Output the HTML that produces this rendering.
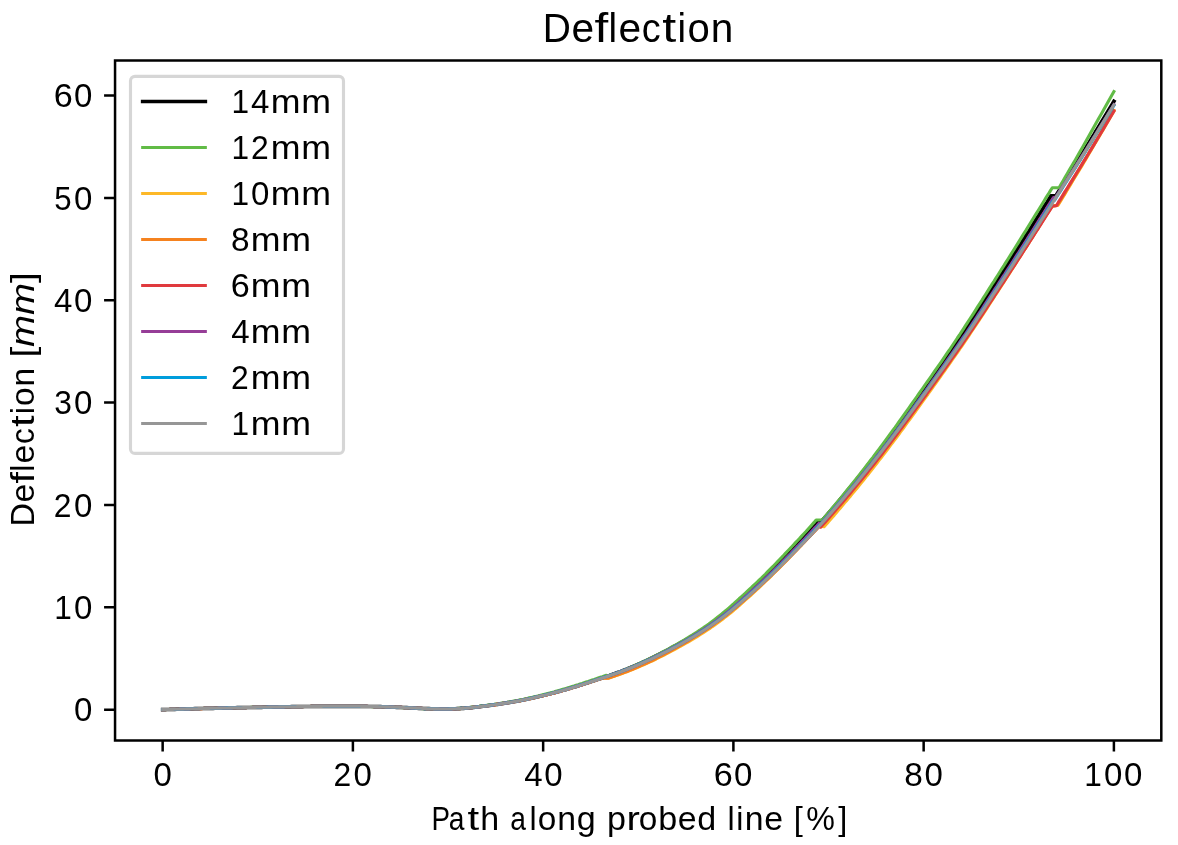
<!DOCTYPE html>
<html><head><meta charset="utf-8"><title>Deflection</title>
<style>
html,body{margin:0;padding:0;background:#ffffff;overflow:hidden;}
svg{display:block;will-change:transform;}
text{font-family:"Liberation Sans",sans-serif;}
</style></head><body>
<svg width="1178" height="845" viewBox="0 0 1178 845">
<rect x="0" y="0" width="1178" height="845" fill="#ffffff"/>
<defs><clipPath id="ax"><rect x="115.05" y="60.5" width="1046.25" height="680.0"/></clipPath></defs>
<g clip-path="url(#ax)" fill="none" stroke-linejoin="round" stroke-linecap="square">
<path d="M162.7,709.6 L164.7,709.6 L166.7,709.5 L168.7,709.5 L170.7,709.4 L172.7,709.3 L174.8,709.3 L176.8,709.2 L178.8,709.2 L180.8,709.1 L182.8,709.1 L184.8,709.0 L186.9,708.9 L188.9,708.9 L190.9,708.8 L192.9,708.8 L194.9,708.7 L197.0,708.7 L199.0,708.6 L201.0,708.5 L203.0,708.5 L205.0,708.4 L207.0,708.4 L209.1,708.3 L211.1,708.3 L213.1,708.3 L215.1,708.2 L217.1,708.2 L219.1,708.1 L221.2,708.1 L223.2,708.0 L225.2,708.0 L227.2,707.9 L229.2,707.9 L231.3,707.9 L233.3,707.8 L235.3,707.8 L237.3,707.7 L239.3,707.7 L241.3,707.7 L243.4,707.6 L245.4,707.6 L247.4,707.5 L249.4,707.5 L251.4,707.5 L253.4,707.4 L255.5,707.4 L257.5,707.3 L259.5,707.3 L261.5,707.3 L263.5,707.2 L265.6,707.2 L267.6,707.1 L269.6,707.1 L271.6,707.1 L273.6,707.0 L275.6,707.0 L277.7,707.0 L279.7,706.9 L281.7,706.9 L283.7,706.9 L285.7,706.8 L287.7,706.8 L289.8,706.8 L291.8,706.7 L293.8,706.7 L295.8,706.7 L297.8,706.6 L299.9,706.6 L301.9,706.6 L303.9,706.5 L305.9,706.5 L307.9,706.5 L309.9,706.5 L312.0,706.4 L314.0,706.4 L316.0,706.4 L318.0,706.4 L320.0,706.4 L322.0,706.4 L324.1,706.3 L326.1,706.3 L328.1,706.3 L330.1,706.3 L332.1,706.3 L334.2,706.3 L336.2,706.3 L338.2,706.3 L340.2,706.3 L342.2,706.3 L344.2,706.3 L346.3,706.3 L348.3,706.3 L350.3,706.3 L352.3,706.3 L354.3,706.3 L356.3,706.3 L358.4,706.3 L360.4,706.4 L362.4,706.4 L364.4,706.4 L366.4,706.4 L368.5,706.5 L370.5,706.5 L372.5,706.5 L374.5,706.6 L376.5,706.6 L378.5,706.7 L380.6,706.7 L382.6,706.8 L384.6,706.8 L386.6,706.9 L388.6,707.0 L390.6,707.0 L392.7,707.1 L394.7,707.2 L396.7,707.3 L398.7,707.3 L400.7,707.4 L402.8,707.5 L404.8,707.6 L406.8,707.7 L408.8,707.8 L410.8,707.9 L412.8,708.0 L414.9,708.1 L416.9,708.2 L418.9,708.3 L420.9,708.4 L422.9,708.5 L424.9,708.6 L427.0,708.6 L429.0,708.7 L431.0,708.8 L433.0,708.8 L435.0,708.9 L437.1,708.9 L439.1,709.0 L441.1,709.0 L443.1,709.0 L445.1,709.0 L447.1,709.0 L449.2,708.9 L451.2,708.9 L453.2,708.8 L455.2,708.8 L457.2,708.7 L459.2,708.6 L461.3,708.4 L463.3,708.3 L465.3,708.1 L467.3,708.0 L469.3,707.8 L471.4,707.6 L473.4,707.4 L475.4,707.2 L477.4,706.9 L479.4,706.7 L481.4,706.4 L483.5,706.2 L485.5,705.9 L487.5,705.7 L489.5,705.4 L491.5,705.1 L493.5,704.8 L495.6,704.5 L497.6,704.3 L499.6,704.0 L501.6,703.7 L503.6,703.3 L505.7,703.0 L507.7,702.7 L509.7,702.4 L511.7,702.0 L513.7,701.7 L515.7,701.3 L517.8,701.0 L519.8,700.6 L521.8,700.2 L523.8,699.8 L525.8,699.4 L527.8,698.9 L529.9,698.5 L531.9,698.1 L533.9,697.6 L535.9,697.1 L537.9,696.7 L540.0,696.2 L542.0,695.7 L544.0,695.2 L546.0,694.7 L548.0,694.2 L550.0,693.7 L552.1,693.2 L554.1,692.7 L556.1,692.2 L558.1,691.6 L560.1,691.1 L562.1,690.5 L564.2,690.0 L566.2,689.4 L568.2,688.8 L570.2,688.2 L572.2,687.6 L574.3,687.0 L576.3,686.4 L578.3,685.7 L580.3,685.1 L582.3,684.5 L584.3,683.8 L586.4,683.2 L588.4,682.5 L590.4,681.8 L592.4,681.2 L594.4,680.5 L596.4,679.8 L598.5,679.2 L600.5,678.5 L602.5,677.8 L603.5,677.5 L605.5,676.8 L607.5,676.1 L609.6,675.5 L611.6,674.8 L613.6,674.1 L615.6,673.3 L617.6,672.6 L619.7,671.9 L621.7,671.1 L623.7,670.3 L625.7,669.6 L627.7,668.8 L629.7,667.9 L631.8,667.1 L633.8,666.3 L635.8,665.4 L637.8,664.5 L639.8,663.6 L641.9,662.7 L643.9,661.8 L645.9,660.9 L647.9,659.9 L649.9,659.0 L652.0,658.0 L654.0,657.0 L656.0,656.0 L658.0,655.0 L660.0,654.0 L662.0,653.0 L664.1,651.9 L666.1,650.9 L668.1,649.8 L670.1,648.7 L672.1,647.6 L674.2,646.5 L676.2,645.4 L678.2,644.3 L680.2,643.2 L682.2,642.0 L684.3,640.9 L686.3,639.7 L688.3,638.5 L690.3,637.3 L692.3,636.1 L694.3,634.9 L696.4,633.6 L698.4,632.3 L700.4,631.0 L702.4,629.7 L704.4,628.3 L706.5,627.0 L708.5,625.6 L710.5,624.1 L712.5,622.7 L714.5,621.2 L716.6,619.7 L718.6,618.2 L720.6,616.6 L722.6,615.1 L724.6,613.5 L726.7,611.8 L728.7,610.1 L730.7,608.5 L732.7,606.7 L734.7,605.0 L736.7,603.2 L738.8,601.4 L740.8,599.7 L742.8,597.9 L744.8,596.0 L746.8,594.2 L748.9,592.4 L750.9,590.6 L752.9,588.7 L754.9,586.8 L756.9,585.0 L759.0,583.1 L761.0,581.2 L763.0,579.2 L765.0,577.3 L767.0,575.3 L769.0,573.4 L771.1,571.4 L773.1,569.4 L775.1,567.4 L777.1,565.3 L779.1,563.3 L781.2,561.2 L783.2,559.2 L785.2,557.1 L787.2,555.0 L789.2,552.9 L791.3,550.8 L793.3,548.7 L795.3,546.6 L797.3,544.5 L799.3,542.4 L801.3,540.3 L803.4,538.1 L805.4,536.0 L807.4,533.9 L809.4,531.7 L811.4,529.5 L813.5,527.3 L815.5,525.0 L817.5,522.7 L820.4,522.6 L822.4,520.3 L824.4,518.0 L826.5,515.7 L828.5,513.3 L830.5,511.0 L832.5,508.6 L834.6,506.2 L836.6,503.9 L838.6,501.5 L840.6,499.0 L842.6,496.6 L844.7,494.2 L846.7,491.7 L848.7,489.3 L850.7,486.8 L852.8,484.3 L854.8,481.8 L856.8,479.3 L858.8,476.8 L860.8,474.3 L862.9,471.7 L864.9,469.2 L866.9,466.6 L868.9,464.0 L870.9,461.4 L873.0,458.8 L875.0,456.2 L877.0,453.5 L879.0,450.9 L881.1,448.2 L883.1,445.5 L885.1,442.8 L887.1,440.1 L889.1,437.4 L891.2,434.7 L893.2,432.0 L895.2,429.2 L897.2,426.5 L899.3,423.7 L901.3,420.9 L903.3,418.1 L905.3,415.4 L907.3,412.6 L909.4,409.8 L911.4,406.9 L913.4,404.1 L915.4,401.3 L917.5,398.5 L919.5,395.7 L921.5,392.8 L923.5,390.0 L925.5,387.1 L927.6,384.3 L929.6,381.5 L931.6,378.6 L933.6,375.8 L935.7,372.9 L937.7,370.0 L939.7,367.2 L941.7,364.3 L943.7,361.4 L945.8,358.5 L947.8,355.6 L949.8,352.7 L951.8,349.8 L953.8,346.8 L955.9,343.9 L957.9,340.9 L959.9,337.9 L961.9,334.9 L964.0,331.9 L966.0,328.9 L968.0,325.8 L970.0,322.8 L972.0,319.7 L974.1,316.6 L976.1,313.5 L978.1,310.4 L980.1,307.3 L982.2,304.2 L984.2,301.0 L986.2,297.9 L988.2,294.8 L990.2,291.6 L992.3,288.5 L994.3,285.4 L996.3,282.2 L998.3,279.1 L1000.4,275.9 L1002.4,272.8 L1004.4,269.6 L1006.4,266.5 L1008.4,263.3 L1010.5,260.1 L1012.5,256.9 L1014.5,253.8 L1016.5,250.6 L1018.5,247.4 L1020.6,244.2 L1022.6,241.0 L1024.6,237.8 L1026.6,234.6 L1028.7,231.4 L1030.7,228.2 L1032.7,224.9 L1034.7,221.7 L1036.7,218.5 L1038.8,215.3 L1040.8,212.0 L1042.8,208.8 L1044.8,205.6 L1046.9,202.4 L1048.9,199.2 L1050.9,195.9 L1055.8,195.9 L1057.9,192.6 L1060.0,189.3 L1062.0,186.0 L1064.1,182.7 L1066.2,179.4 L1068.2,176.1 L1070.3,172.8 L1072.4,169.5 L1074.5,166.2 L1076.5,162.9 L1078.6,159.5 L1080.7,156.2 L1082.8,152.8 L1084.9,149.4 L1086.9,146.0 L1089.0,142.6 L1091.1,139.2 L1093.2,135.8 L1095.2,132.3 L1097.3,128.9 L1099.4,125.5 L1101.5,122.0 L1103.5,118.6 L1105.6,115.1 L1107.7,111.7 L1109.8,108.3 L1111.8,104.9 L1113.9,101.4" stroke="#000000" stroke-width="3.7"/>
<path d="M162.7,709.6 L164.7,709.6 L166.7,709.5 L168.7,709.5 L170.7,709.4 L172.7,709.3 L174.7,709.3 L176.8,709.2 L178.8,709.2 L180.8,709.1 L182.8,709.0 L184.8,709.0 L186.8,708.9 L188.9,708.9 L190.9,708.8 L192.9,708.8 L194.9,708.7 L196.9,708.6 L198.9,708.6 L201.0,708.5 L203.0,708.5 L205.0,708.4 L207.0,708.4 L209.0,708.3 L211.0,708.3 L213.1,708.2 L215.1,708.2 L217.1,708.2 L219.1,708.1 L221.1,708.1 L223.1,708.0 L225.2,708.0 L227.2,707.9 L229.2,707.9 L231.2,707.9 L233.2,707.8 L235.2,707.8 L237.3,707.7 L239.3,707.7 L241.3,707.6 L243.3,707.6 L245.3,707.6 L247.3,707.5 L249.4,707.5 L251.4,707.4 L253.4,707.4 L255.4,707.4 L257.4,707.3 L259.4,707.3 L261.5,707.2 L263.5,707.2 L265.5,707.2 L267.5,707.1 L269.5,707.1 L271.5,707.1 L273.6,707.0 L275.6,707.0 L277.6,706.9 L279.6,706.9 L281.6,706.9 L283.6,706.8 L285.7,706.8 L287.7,706.8 L289.7,706.7 L291.7,706.7 L293.7,706.7 L295.7,706.6 L297.8,706.6 L299.8,706.6 L301.8,706.6 L303.8,706.5 L305.8,706.5 L307.8,706.5 L309.9,706.5 L311.9,706.4 L313.9,706.4 L315.9,706.4 L317.9,706.4 L319.9,706.4 L322.0,706.3 L324.0,706.3 L326.0,706.3 L328.0,706.3 L330.0,706.3 L332.0,706.3 L334.1,706.3 L336.1,706.3 L338.1,706.3 L340.1,706.3 L342.1,706.3 L344.1,706.3 L346.2,706.3 L348.2,706.3 L350.2,706.3 L352.2,706.3 L354.2,706.3 L356.2,706.3 L358.3,706.4 L360.3,706.4 L362.3,706.4 L364.3,706.4 L366.3,706.5 L368.3,706.5 L370.4,706.5 L372.4,706.6 L374.4,706.6 L376.4,706.7 L378.4,706.7 L380.4,706.8 L382.5,706.8 L384.5,706.9 L386.5,706.9 L388.5,707.0 L390.5,707.1 L392.5,707.2 L394.6,707.2 L396.6,707.3 L398.6,707.4 L400.6,707.5 L402.6,707.6 L404.6,707.7 L406.7,707.8 L408.7,707.9 L410.7,708.0 L412.7,708.1 L414.7,708.2 L416.7,708.3 L418.8,708.4 L420.8,708.5 L422.8,708.6 L424.8,708.6 L426.8,708.7 L428.8,708.8 L430.9,708.8 L432.9,708.9 L434.9,708.9 L436.9,709.0 L438.9,709.0 L440.9,709.0 L443.0,709.0 L445.0,709.0 L447.0,708.9 L449.0,708.9 L451.0,708.8 L453.0,708.7 L455.1,708.6 L457.1,708.5 L459.1,708.4 L461.1,708.3 L463.1,708.1 L465.1,707.9 L467.2,707.7 L469.2,707.5 L471.2,707.3 L473.2,707.1 L475.2,706.9 L477.2,706.6 L479.3,706.4 L481.3,706.1 L483.3,705.9 L485.3,705.6 L487.3,705.3 L489.3,705.0 L491.4,704.7 L493.4,704.5 L495.4,704.2 L497.4,703.9 L499.4,703.5 L501.4,703.2 L503.5,702.9 L505.5,702.6 L507.5,702.3 L509.5,701.9 L511.5,701.6 L513.5,701.2 L515.6,700.8 L517.6,700.4 L519.6,700.0 L521.6,699.6 L523.6,699.2 L525.6,698.7 L527.7,698.3 L529.7,697.8 L531.7,697.4 L533.7,696.9 L535.7,696.4 L537.7,696.0 L539.8,695.5 L541.8,695.0 L543.8,694.5 L545.8,694.0 L547.8,693.5 L549.8,692.9 L551.9,692.4 L553.9,691.9 L555.9,691.3 L557.9,690.8 L559.9,690.2 L561.9,689.6 L564.0,689.0 L566.0,688.4 L568.0,687.8 L570.0,687.2 L572.0,686.6 L574.0,686.0 L576.1,685.3 L578.1,684.7 L580.1,684.0 L582.1,683.4 L584.1,682.7 L586.1,682.0 L588.2,681.4 L590.2,680.7 L592.2,680.0 L594.2,679.4 L596.2,678.7 L598.2,678.0 L600.3,677.3 L602.3,676.7 L604.3,676.0 L606.3,675.3 L607.5,676.0 L609.5,675.3 L611.6,674.6 L613.6,673.9 L615.6,673.2 L617.6,672.4 L619.7,671.7 L621.7,670.9 L623.7,670.1 L625.7,669.3 L627.8,668.4 L629.8,667.6 L631.8,666.7 L633.8,665.9 L635.9,665.0 L637.9,664.1 L639.9,663.2 L641.9,662.2 L644.0,661.3 L646.0,660.3 L648.0,659.4 L650.0,658.4 L652.1,657.4 L654.1,656.4 L656.1,655.4 L658.1,654.3 L660.2,653.3 L662.2,652.2 L664.2,651.1 L666.2,650.1 L668.3,649.0 L670.3,647.9 L672.3,646.7 L674.3,645.6 L676.4,644.5 L678.4,643.3 L680.4,642.2 L682.4,641.0 L684.5,639.8 L686.5,638.6 L688.5,637.4 L690.5,636.1 L692.6,634.9 L694.6,633.6 L696.6,632.3 L698.6,630.9 L700.7,629.6 L702.7,628.2 L704.7,626.8 L706.7,625.4 L708.8,623.9 L710.8,622.4 L712.8,620.9 L714.8,619.4 L716.9,617.8 L718.9,616.2 L720.9,614.6 L722.9,613.0 L725.0,611.3 L727.0,609.6 L729.0,607.9 L731.0,606.1 L733.1,604.3 L735.1,602.5 L737.1,600.7 L739.1,598.8 L741.2,597.0 L743.2,595.2 L745.2,593.3 L747.2,591.4 L749.3,589.5 L751.3,587.7 L753.3,585.7 L755.3,583.8 L757.4,581.9 L759.4,579.9 L761.4,578.0 L763.4,576.0 L765.5,574.0 L767.5,571.9 L769.5,569.9 L771.5,567.9 L773.6,565.8 L775.6,563.7 L777.6,561.6 L779.6,559.5 L781.7,557.4 L783.7,555.3 L785.7,553.1 L787.7,551.0 L789.8,548.9 L791.8,546.7 L793.8,544.6 L795.8,542.4 L797.9,540.2 L799.9,538.1 L801.9,535.9 L803.9,533.7 L806.0,531.5 L808.0,529.2 L810.0,527.0 L812.0,524.7 L814.1,522.4 L816.1,520.0 L822.2,520.0 L824.2,517.7 L826.2,515.3 L828.3,512.9 L830.3,510.5 L832.3,508.1 L834.3,505.7 L836.3,503.3 L838.3,500.9 L840.4,498.4 L842.4,496.0 L844.4,493.5 L846.4,491.0 L848.4,488.5 L850.5,486.0 L852.5,483.5 L854.5,481.0 L856.5,478.4 L858.5,475.9 L860.6,473.3 L862.6,470.7 L864.6,468.1 L866.6,465.5 L868.6,462.9 L870.6,460.2 L872.7,457.6 L874.7,454.9 L876.7,452.3 L878.7,449.6 L880.7,446.9 L882.8,444.1 L884.8,441.4 L886.8,438.7 L888.8,435.9 L890.8,433.1 L892.8,430.4 L894.9,427.6 L896.9,424.8 L898.9,422.0 L900.9,419.2 L902.9,416.4 L905.0,413.5 L907.0,410.7 L909.0,407.8 L911.0,405.0 L913.0,402.1 L915.0,399.3 L917.1,396.4 L919.1,393.5 L921.1,390.7 L923.1,387.8 L925.1,384.9 L927.2,382.0 L929.2,379.2 L931.2,376.3 L933.2,373.4 L935.2,370.5 L937.2,367.6 L939.3,364.7 L941.3,361.8 L943.3,358.8 L945.3,355.9 L947.3,352.9 L949.4,350.0 L951.4,347.0 L953.4,344.0 L955.4,341.0 L957.4,338.0 L959.5,335.0 L961.5,331.9 L963.5,328.8 L965.5,325.7 L967.5,322.6 L969.5,319.5 L971.6,316.4 L973.6,313.3 L975.6,310.1 L977.6,306.9 L979.6,303.8 L981.7,300.6 L983.7,297.4 L985.7,294.3 L987.7,291.1 L989.7,287.9 L991.7,284.7 L993.8,281.6 L995.8,278.4 L997.8,275.2 L999.8,272.0 L1001.8,268.8 L1003.9,265.6 L1005.9,262.4 L1007.9,259.2 L1009.9,256.0 L1011.9,252.8 L1014.0,249.5 L1016.0,246.3 L1018.0,243.1 L1020.0,239.8 L1022.0,236.6 L1024.0,233.3 L1026.1,230.1 L1028.1,226.8 L1030.1,223.5 L1032.1,220.3 L1034.1,217.0 L1036.2,213.7 L1038.2,210.5 L1040.2,207.2 L1042.2,204.0 L1044.2,200.7 L1046.2,197.4 L1048.3,194.2 L1050.3,190.9 L1052.3,187.7 L1059.1,187.7 L1061.2,184.1 L1063.3,180.5 L1065.4,176.8 L1067.5,173.2 L1069.6,169.6 L1071.7,166.0 L1073.9,162.4 L1076.0,158.7 L1078.1,155.0 L1080.2,151.4 L1082.3,147.7 L1084.4,144.0 L1086.5,140.2 L1088.6,136.5 L1090.7,132.7 L1092.8,129.0 L1094.9,125.2 L1097.0,121.5 L1099.1,117.7 L1101.3,114.0 L1103.4,110.3 L1105.5,106.5 L1107.6,102.8 L1109.7,99.0 L1111.8,95.3 L1113.9,91.5" stroke="#61BB46" stroke-width="3.1"/>
<path d="M162.7,709.6 L164.7,709.6 L166.7,709.5 L168.7,709.5 L170.7,709.4 L172.7,709.3 L174.8,709.3 L176.8,709.2 L178.8,709.2 L180.8,709.1 L182.8,709.1 L184.8,709.0 L186.9,708.9 L188.9,708.9 L190.9,708.8 L192.9,708.8 L194.9,708.7 L197.0,708.7 L199.0,708.6 L201.0,708.6 L203.0,708.5 L205.0,708.4 L207.0,708.4 L209.1,708.3 L211.1,708.3 L213.1,708.3 L215.1,708.2 L217.1,708.2 L219.1,708.1 L221.2,708.1 L223.2,708.0 L225.2,708.0 L227.2,707.9 L229.2,707.9 L231.3,707.9 L233.3,707.8 L235.3,707.8 L237.3,707.7 L239.3,707.7 L241.3,707.7 L243.4,707.6 L245.4,707.6 L247.4,707.5 L249.4,707.5 L251.4,707.5 L253.4,707.4 L255.5,707.4 L257.5,707.3 L259.5,707.3 L261.5,707.3 L263.5,707.2 L265.6,707.2 L267.6,707.2 L269.6,707.1 L271.6,707.1 L273.6,707.0 L275.6,707.0 L277.7,707.0 L279.7,706.9 L281.7,706.9 L283.7,706.9 L285.7,706.8 L287.7,706.8 L289.8,706.8 L291.8,706.7 L293.8,706.7 L295.8,706.7 L297.8,706.6 L299.9,706.6 L301.9,706.6 L303.9,706.5 L305.9,706.5 L307.9,706.5 L309.9,706.5 L312.0,706.4 L314.0,706.4 L316.0,706.4 L318.0,706.4 L320.0,706.4 L322.0,706.4 L324.1,706.3 L326.1,706.3 L328.1,706.3 L330.1,706.3 L332.1,706.3 L334.2,706.3 L336.2,706.3 L338.2,706.3 L340.2,706.3 L342.2,706.3 L344.2,706.3 L346.3,706.3 L348.3,706.3 L350.3,706.3 L352.3,706.3 L354.3,706.3 L356.3,706.3 L358.4,706.3 L360.4,706.4 L362.4,706.4 L364.4,706.4 L366.4,706.4 L368.5,706.5 L370.5,706.5 L372.5,706.5 L374.5,706.6 L376.5,706.6 L378.5,706.7 L380.6,706.7 L382.6,706.8 L384.6,706.8 L386.6,706.9 L388.6,706.9 L390.6,707.0 L392.7,707.1 L394.7,707.2 L396.7,707.2 L398.7,707.3 L400.7,707.4 L402.8,707.5 L404.8,707.6 L406.8,707.7 L408.8,707.8 L410.8,707.9 L412.8,708.0 L414.9,708.1 L416.9,708.2 L418.9,708.3 L420.9,708.4 L422.9,708.5 L424.9,708.5 L427.0,708.6 L429.0,708.7 L431.0,708.8 L433.0,708.8 L435.0,708.9 L437.1,708.9 L439.1,709.0 L441.1,709.0 L443.1,709.0 L445.1,709.0 L447.1,709.0 L449.2,709.0 L451.2,708.9 L453.2,708.9 L455.2,708.8 L457.2,708.7 L459.2,708.6 L461.3,708.5 L463.3,708.3 L465.3,708.2 L467.3,708.0 L469.3,707.8 L471.4,707.6 L473.4,707.4 L475.4,707.2 L477.4,707.0 L479.4,706.8 L481.4,706.5 L483.5,706.3 L485.5,706.0 L487.5,705.7 L489.5,705.5 L491.5,705.2 L493.5,704.9 L495.6,704.6 L497.6,704.3 L499.6,704.0 L501.6,703.7 L503.6,703.4 L505.7,703.1 L507.7,702.8 L509.7,702.5 L511.7,702.2 L513.7,701.8 L515.7,701.5 L517.8,701.1 L519.8,700.7 L521.8,700.3 L523.8,699.9 L525.8,699.5 L527.8,699.1 L529.9,698.7 L531.9,698.2 L533.9,697.8 L535.9,697.3 L537.9,696.8 L540.0,696.4 L542.0,695.9 L544.0,695.4 L546.0,694.9 L548.0,694.4 L550.0,693.9 L552.1,693.4 L554.1,692.9 L556.1,692.4 L558.1,691.8 L560.1,691.3 L562.1,690.7 L564.2,690.2 L566.2,689.6 L568.2,689.0 L570.2,688.4 L572.2,687.8 L574.3,687.2 L576.3,686.6 L578.3,686.0 L580.3,685.3 L582.3,684.7 L584.3,684.1 L586.4,683.4 L588.4,682.8 L590.4,682.1 L592.4,681.4 L594.4,680.8 L596.4,680.1 L598.5,679.4 L600.5,678.8 L602.5,678.1 L608.1,678.3 L610.2,677.6 L612.3,676.9 L614.4,676.2 L616.5,675.4 L618.5,674.7 L620.6,674.0 L622.7,673.2 L624.8,672.4 L626.9,671.7 L629.0,670.9 L631.1,670.0 L633.2,669.2 L635.3,668.3 L637.3,667.5 L639.4,666.6 L641.5,665.7 L643.6,664.8 L645.7,663.8 L647.8,662.9 L649.9,661.9 L652.0,661.0 L654.0,660.0 L656.1,659.0 L658.2,657.9 L660.3,656.9 L662.4,655.9 L664.5,654.8 L666.6,653.7 L668.7,652.6 L670.8,651.5 L672.8,650.4 L674.9,649.3 L677.0,648.2 L679.1,647.0 L681.2,645.8 L683.3,644.7 L685.4,643.5 L687.5,642.3 L689.6,641.1 L691.6,639.9 L693.7,638.6 L695.8,637.4 L697.9,636.1 L700.0,634.8 L700.0,634.8 L702.1,633.5 L704.1,632.2 L706.2,630.8 L708.2,629.5 L710.3,628.1 L712.3,626.6 L714.4,625.2 L716.4,623.7 L718.5,622.2 L720.5,620.7 L722.6,619.2 L724.6,617.6 L726.7,616.0 L728.8,614.3 L730.8,612.7 L732.9,611.0 L734.9,609.2 L737.0,607.5 L739.0,605.7 L741.1,603.9 L743.1,602.1 L745.2,600.2 L747.2,598.4 L749.3,596.5 L751.4,594.7 L753.4,592.8 L755.5,590.9 L757.5,589.0 L759.6,587.1 L761.6,585.2 L763.7,583.2 L765.7,581.2 L767.8,579.3 L769.8,577.3 L771.9,575.3 L773.9,573.2 L776.0,571.2 L776.0,571.2 L778.1,569.1 L780.3,566.9 L782.5,564.7 L784.6,562.6 L786.8,560.4 L788.9,558.2 L791.0,555.9 L793.2,553.7 L795.4,551.5 L797.5,549.3 L799.6,547.0 L801.8,544.8 L804.0,542.5 L806.1,540.2 L808.2,538.0 L810.4,535.7 L812.5,533.4 L814.7,531.1 L816.9,528.7 L819.0,526.3 L824.1,526.6 L826.1,524.4 L828.2,522.1 L830.2,519.7 L832.2,517.4 L834.3,515.1 L836.3,512.7 L838.3,510.3 L840.4,507.9 L842.4,505.6 L844.4,503.1 L846.5,500.7 L848.5,498.3 L850.6,495.9 L852.6,493.4 L854.6,491.0 L856.7,488.5 L858.7,486.0 L860.7,483.5 L862.8,481.0 L864.8,478.5 L866.8,475.9 L868.9,473.4 L870.9,470.8 L872.9,468.2 L875.0,465.6 L877.0,463.0 L879.0,460.4 L881.1,457.8 L883.1,455.1 L885.1,452.5 L887.2,449.8 L889.2,447.1 L891.2,444.4 L893.3,441.7 L895.3,439.0 L897.4,436.2 L899.4,433.5 L901.4,430.7 L903.5,428.0 L905.5,425.2 L907.5,422.4 L909.6,419.6 L911.6,416.8 L913.6,414.0 L915.7,411.2 L917.7,408.4 L919.7,405.6 L921.8,402.7 L923.8,399.9 L925.8,397.0 L927.9,394.2 L929.9,391.3 L931.9,388.5 L934.0,385.6 L936.0,382.8 L938.1,379.9 L940.1,377.1 L942.1,374.2 L944.2,371.3 L946.2,368.4 L948.2,365.5 L950.3,362.6 L952.3,359.7 L954.3,356.8 L956.4,353.9 L958.4,351.0 L960.4,348.0 L962.5,345.0 L964.5,342.1 L966.5,339.1 L968.6,336.1 L970.6,333.0 L972.6,330.0 L974.7,326.9 L976.7,323.9 L978.7,320.8 L980.8,317.7 L982.8,314.6 L984.9,311.4 L986.9,308.3 L988.9,305.2 L991.0,302.0 L993.0,298.9 L995.0,295.7 L997.1,292.6 L999.1,289.4 L1001.1,286.3 L1003.2,283.1 L1005.2,279.9 L1007.2,276.8 L1009.3,273.6 L1011.3,270.4 L1013.3,267.3 L1015.4,264.1 L1017.4,260.9 L1019.4,257.7 L1021.5,254.5 L1023.5,251.3 L1025.5,248.1 L1027.6,244.9 L1029.6,241.7 L1031.7,238.5 L1033.7,235.2 L1035.7,232.0 L1037.8,228.8 L1039.8,225.5 L1041.8,222.3 L1043.9,219.0 L1045.9,215.8 L1047.9,212.6 L1050.0,209.3 L1052.0,206.1 L1058.0,205.2 L1060.2,201.7 L1062.3,198.1 L1064.5,194.6 L1066.6,191.0 L1068.8,187.4 L1070.9,183.9 L1073.0,180.3 L1075.2,176.8 L1077.4,173.2 L1079.5,169.6 L1081.7,166.1 L1083.8,162.5 L1086.0,158.9 L1088.1,155.3 L1090.2,151.6 L1092.4,148.0 L1094.5,144.3 L1096.7,140.7 L1098.9,137.0 L1101.0,133.3 L1103.2,129.6 L1105.3,125.9 L1107.5,122.2 L1109.6,118.5 L1111.8,114.8 L1113.9,111.1" stroke="#FDB827" stroke-width="3.1"/>
<path d="M162.7,709.6 L164.7,709.6 L166.7,709.5 L168.7,709.5 L170.7,709.4 L172.7,709.3 L174.8,709.3 L176.8,709.2 L178.8,709.2 L180.8,709.1 L182.8,709.1 L184.8,709.0 L186.9,708.9 L188.9,708.9 L190.9,708.8 L192.9,708.8 L194.9,708.7 L197.0,708.7 L199.0,708.6 L201.0,708.6 L203.0,708.5 L205.0,708.4 L207.0,708.4 L209.1,708.3 L211.1,708.3 L213.1,708.3 L215.1,708.2 L217.1,708.2 L219.1,708.1 L221.2,708.1 L223.2,708.0 L225.2,708.0 L227.2,707.9 L229.2,707.9 L231.3,707.9 L233.3,707.8 L235.3,707.8 L237.3,707.7 L239.3,707.7 L241.3,707.7 L243.4,707.6 L245.4,707.6 L247.4,707.5 L249.4,707.5 L251.4,707.5 L253.4,707.4 L255.5,707.4 L257.5,707.3 L259.5,707.3 L261.5,707.3 L263.5,707.2 L265.6,707.2 L267.6,707.2 L269.6,707.1 L271.6,707.1 L273.6,707.0 L275.6,707.0 L277.7,707.0 L279.7,706.9 L281.7,706.9 L283.7,706.9 L285.7,706.8 L287.7,706.8 L289.8,706.8 L291.8,706.7 L293.8,706.7 L295.8,706.7 L297.8,706.6 L299.9,706.6 L301.9,706.6 L303.9,706.5 L305.9,706.5 L307.9,706.5 L309.9,706.5 L312.0,706.4 L314.0,706.4 L316.0,706.4 L318.0,706.4 L320.0,706.4 L322.0,706.4 L324.1,706.3 L326.1,706.3 L328.1,706.3 L330.1,706.3 L332.1,706.3 L334.2,706.3 L336.2,706.3 L338.2,706.3 L340.2,706.3 L342.2,706.3 L344.2,706.3 L346.3,706.3 L348.3,706.3 L350.3,706.3 L352.3,706.3 L354.3,706.3 L356.3,706.3 L358.4,706.3 L360.4,706.4 L362.4,706.4 L364.4,706.4 L366.4,706.4 L368.5,706.5 L370.5,706.5 L372.5,706.5 L374.5,706.6 L376.5,706.6 L378.5,706.7 L380.6,706.7 L382.6,706.8 L384.6,706.8 L386.6,706.9 L388.6,706.9 L390.6,707.0 L392.7,707.1 L394.7,707.2 L396.7,707.2 L398.7,707.3 L400.7,707.4 L402.8,707.5 L404.8,707.6 L406.8,707.7 L408.8,707.8 L410.8,707.9 L412.8,708.0 L414.9,708.1 L416.9,708.2 L418.9,708.3 L420.9,708.4 L422.9,708.5 L424.9,708.5 L427.0,708.6 L429.0,708.7 L431.0,708.8 L433.0,708.8 L435.0,708.9 L437.1,708.9 L439.1,709.0 L441.1,709.0 L443.1,709.0 L445.1,709.0 L447.1,709.0 L449.2,709.0 L451.2,708.9 L453.2,708.9 L455.2,708.8 L457.2,708.7 L459.2,708.6 L461.3,708.5 L463.3,708.3 L465.3,708.2 L467.3,708.0 L469.3,707.8 L471.4,707.6 L473.4,707.4 L475.4,707.2 L477.4,707.0 L479.4,706.8 L481.4,706.5 L483.5,706.3 L485.5,706.0 L487.5,705.7 L489.5,705.5 L491.5,705.2 L493.5,704.9 L495.6,704.6 L497.6,704.3 L499.6,704.0 L501.6,703.7 L503.6,703.4 L505.7,703.1 L507.7,702.8 L509.7,702.5 L511.7,702.2 L513.7,701.8 L515.7,701.5 L517.8,701.1 L519.8,700.7 L521.8,700.3 L523.8,699.9 L525.8,699.5 L527.8,699.1 L529.9,698.7 L531.9,698.2 L533.9,697.8 L535.9,697.3 L537.9,696.8 L540.0,696.4 L542.0,695.9 L544.0,695.4 L546.0,694.9 L548.0,694.4 L550.0,693.9 L552.1,693.4 L554.1,692.9 L556.1,692.4 L558.1,691.8 L560.1,691.3 L562.1,690.7 L564.2,690.2 L566.2,689.6 L568.2,689.0 L570.2,688.4 L572.2,687.8 L574.3,687.2 L576.3,686.6 L578.3,686.0 L580.3,685.3 L582.3,684.7 L584.3,684.1 L586.4,683.4 L588.4,682.8 L590.4,682.1 L592.4,681.4 L594.4,680.8 L596.4,680.1 L598.5,679.4 L600.5,678.8 L602.5,678.1 L608.1,678.3 L610.2,677.6 L612.3,676.8 L614.4,676.1 L616.5,675.4 L618.5,674.6 L620.6,673.9 L622.7,673.1 L624.8,672.3 L626.9,671.5 L629.0,670.7 L631.1,669.8 L633.2,669.0 L635.3,668.1 L637.3,667.2 L639.4,666.3 L641.5,665.4 L643.6,664.4 L645.7,663.5 L647.8,662.5 L649.9,661.5 L652.0,660.5 L654.0,659.5 L656.1,658.5 L658.2,657.4 L660.3,656.4 L662.4,655.3 L664.5,654.2 L666.6,653.1 L668.7,652.0 L670.8,650.8 L672.8,649.7 L674.9,648.5 L677.0,647.4 L679.1,646.2 L681.2,645.0 L683.3,643.8 L685.4,642.6 L687.5,641.3 L689.6,640.1 L691.6,638.8 L693.7,637.5 L695.8,636.2 L697.9,634.9 L700.0,633.6 L700.0,633.6 L702.1,632.3 L704.1,631.0 L706.2,629.6 L708.2,628.3 L710.3,626.9 L712.3,625.5 L714.4,624.0 L716.4,622.6 L718.5,621.1 L720.5,619.6 L722.6,618.0 L724.6,616.5 L726.7,614.9 L728.7,613.2 L730.8,611.6 L732.8,609.9 L734.9,608.2 L736.9,606.5 L739.0,604.7 L741.0,602.9 L743.1,601.1 L745.1,599.3 L747.2,597.5 L749.2,595.7 L751.3,593.9 L753.3,592.0 L755.4,590.2 L757.4,588.3 L759.5,586.4 L761.6,584.5 L763.6,582.6 L765.7,580.7 L767.7,578.7 L769.8,576.8 L771.8,574.8 L773.9,572.8 L775.9,570.8 L778.0,568.8 L780.0,566.8 L782.1,564.7 L784.1,562.7 L786.2,560.6 L788.2,558.5 L790.3,556.4 L792.3,554.3 L794.4,552.2 L796.4,550.1 L798.5,548.0 L800.5,545.9 L802.6,543.7 L804.6,541.6 L806.7,539.5 L808.7,537.3 L810.8,535.2 L812.8,533.0 L814.9,530.8 L816.9,528.6 L819.0,526.3 L821.0,527.0 L823.0,524.8 L825.1,522.5 L827.1,520.2 L829.1,518.0 L831.1,515.6 L833.2,513.3 L835.2,511.0 L837.2,508.6 L839.2,506.3 L841.3,503.9 L843.3,501.6 L845.3,499.2 L847.3,496.8 L849.4,494.4 L851.4,492.0 L853.4,489.5 L855.4,487.1 L857.5,484.6 L859.5,482.2 L861.5,479.7 L863.6,477.2 L865.6,474.7 L867.6,472.2 L869.6,469.6 L871.7,467.1 L873.7,464.5 L875.7,462.0 L877.7,459.4 L879.8,456.8 L881.8,454.2 L883.8,451.6 L885.8,448.9 L887.9,446.3 L889.9,443.6 L891.9,441.0 L893.9,438.3 L896.0,435.6 L898.0,432.9 L900.0,430.2 L902.1,427.4 L904.1,424.7 L906.1,422.0 L908.1,419.2 L910.2,416.5 L912.2,413.7 L914.2,410.9 L916.2,408.2 L918.3,405.4 L920.3,402.6 L922.3,399.8 L924.3,397.0 L926.4,394.2 L928.4,391.4 L930.4,388.6 L932.4,385.8 L934.5,383.0 L936.5,380.1 L938.5,377.3 L940.6,374.5 L942.6,371.7 L944.6,368.8 L946.6,366.0 L948.7,363.1 L950.7,360.3 L952.7,357.4 L954.7,354.5 L956.8,351.7 L958.8,348.8 L960.8,345.8 L962.8,342.9 L964.9,340.0 L966.9,337.0 L968.9,334.1 L970.9,331.1 L973.0,328.1 L975.0,325.0 L977.0,322.0 L979.1,319.0 L981.1,315.9 L983.1,312.8 L985.1,309.8 L987.2,306.7 L989.2,303.6 L991.2,300.5 L993.2,297.4 L995.3,294.3 L997.3,291.2 L999.3,288.1 L1001.3,285.0 L1003.4,281.9 L1005.4,278.8 L1007.4,275.6 L1009.4,272.5 L1011.5,269.4 L1013.5,266.3 L1015.5,263.1 L1017.6,260.0 L1019.6,256.9 L1021.6,253.7 L1023.6,250.6 L1025.7,247.4 L1027.7,244.3 L1029.7,241.1 L1031.7,237.9 L1033.8,234.7 L1035.8,231.6 L1037.8,228.4 L1039.8,225.2 L1041.9,222.0 L1043.9,218.8 L1045.9,215.6 L1047.9,212.4 L1050.0,209.2 L1052.0,206.1 L1057.5,205.2 L1059.6,201.8 L1061.7,198.3 L1063.8,194.9 L1065.9,191.4 L1067.9,188.0 L1070.0,184.5 L1072.1,181.1 L1074.2,177.6 L1076.3,174.1 L1078.4,170.7 L1080.5,167.2 L1082.6,163.7 L1084.7,160.2 L1086.7,156.7 L1088.8,153.2 L1090.9,149.7 L1093.0,146.1 L1095.1,142.6 L1097.2,139.0 L1099.3,135.4 L1101.4,131.8 L1103.5,128.2 L1105.5,124.6 L1107.6,121.0 L1109.7,117.4 L1111.8,113.9 L1113.9,110.3" stroke="#F5821F" stroke-width="3.1"/>
<path d="M162.7,709.6 L164.7,709.6 L166.7,709.5 L168.7,709.5 L170.7,709.4 L172.7,709.3 L174.8,709.3 L176.8,709.2 L178.8,709.2 L180.8,709.1 L182.8,709.1 L184.8,709.0 L186.9,708.9 L188.9,708.9 L190.9,708.8 L192.9,708.8 L194.9,708.7 L197.0,708.7 L199.0,708.6 L201.0,708.6 L203.0,708.5 L205.0,708.4 L207.0,708.4 L209.1,708.3 L211.1,708.3 L213.1,708.3 L215.1,708.2 L217.1,708.2 L219.1,708.1 L221.2,708.1 L223.2,708.0 L225.2,708.0 L227.2,707.9 L229.2,707.9 L231.3,707.9 L233.3,707.8 L235.3,707.8 L237.3,707.7 L239.3,707.7 L241.3,707.7 L243.4,707.6 L245.4,707.6 L247.4,707.5 L249.4,707.5 L251.4,707.5 L253.4,707.4 L255.5,707.4 L257.5,707.3 L259.5,707.3 L261.5,707.3 L263.5,707.2 L265.6,707.2 L267.6,707.2 L269.6,707.1 L271.6,707.1 L273.6,707.0 L275.6,707.0 L277.7,707.0 L279.7,706.9 L281.7,706.9 L283.7,706.9 L285.7,706.8 L287.7,706.8 L289.8,706.8 L291.8,706.7 L293.8,706.7 L295.8,706.7 L297.8,706.6 L299.9,706.6 L301.9,706.6 L303.9,706.5 L305.9,706.5 L307.9,706.5 L309.9,706.5 L312.0,706.4 L314.0,706.4 L316.0,706.4 L318.0,706.4 L320.0,706.4 L322.0,706.4 L324.1,706.3 L326.1,706.3 L328.1,706.3 L330.1,706.3 L332.1,706.3 L334.2,706.3 L336.2,706.3 L338.2,706.3 L340.2,706.3 L342.2,706.3 L344.2,706.3 L346.3,706.3 L348.3,706.3 L350.3,706.3 L352.3,706.3 L354.3,706.3 L356.3,706.3 L358.4,706.3 L360.4,706.4 L362.4,706.4 L364.4,706.4 L366.4,706.4 L368.5,706.5 L370.5,706.5 L372.5,706.5 L374.5,706.6 L376.5,706.6 L378.5,706.7 L380.6,706.7 L382.6,706.8 L384.6,706.8 L386.6,706.9 L388.6,706.9 L390.6,707.0 L392.7,707.1 L394.7,707.2 L396.7,707.2 L398.7,707.3 L400.7,707.4 L402.8,707.5 L404.8,707.6 L406.8,707.7 L408.8,707.8 L410.8,707.9 L412.8,708.0 L414.9,708.1 L416.9,708.2 L418.9,708.3 L420.9,708.4 L422.9,708.5 L424.9,708.5 L427.0,708.6 L429.0,708.7 L431.0,708.8 L433.0,708.8 L435.0,708.9 L437.1,708.9 L439.1,709.0 L441.1,709.0 L443.1,709.0 L445.1,709.0 L447.1,709.0 L449.2,709.0 L451.2,708.9 L453.2,708.9 L455.2,708.8 L457.2,708.7 L459.2,708.6 L461.3,708.5 L463.3,708.3 L465.3,708.2 L467.3,708.0 L469.3,707.8 L471.4,707.6 L473.4,707.4 L475.4,707.2 L477.4,707.0 L479.4,706.8 L481.4,706.5 L483.5,706.3 L485.5,706.0 L487.5,705.7 L489.5,705.5 L491.5,705.2 L493.5,704.9 L495.6,704.6 L497.6,704.3 L499.6,704.0 L501.6,703.7 L503.6,703.4 L505.7,703.1 L507.7,702.8 L509.7,702.5 L511.7,702.2 L513.7,701.8 L515.7,701.5 L517.8,701.1 L519.8,700.7 L521.8,700.3 L523.8,699.9 L525.8,699.5 L527.8,699.1 L529.9,698.7 L531.9,698.2 L533.9,697.8 L535.9,697.3 L537.9,696.8 L540.0,696.4 L542.0,695.9 L544.0,695.4 L546.0,694.9 L548.0,694.4 L550.0,693.9 L552.1,693.4 L554.1,692.9 L556.1,692.4 L558.1,691.8 L560.1,691.3 L562.1,690.7 L564.2,690.2 L566.2,689.6 L568.2,689.0 L570.2,688.4 L572.2,687.8 L574.3,687.2 L576.3,686.6 L578.3,686.0 L580.3,685.3 L582.3,684.7 L584.3,684.1 L586.4,683.4 L588.4,682.8 L590.4,682.1 L592.4,681.4 L594.4,680.8 L596.4,680.1 L598.5,679.4 L600.5,678.8 L602.5,678.1 L604.0,677.6 L606.0,676.9 L608.1,676.3 L610.1,675.6 L612.1,674.9 L614.2,674.2 L616.2,673.5 L618.2,672.8 L620.3,672.1 L622.3,671.3 L624.3,670.5 L626.4,669.8 L628.4,669.0 L630.4,668.2 L632.5,667.4 L634.5,666.5 L636.5,665.7 L638.6,664.8 L640.6,663.9 L642.6,663.0 L644.7,662.1 L646.7,661.2 L648.7,660.3 L650.8,659.3 L652.8,658.4 L654.8,657.4 L656.9,656.4 L658.9,655.4 L660.9,654.4 L663.0,653.4 L665.0,652.4 L667.0,651.4 L669.1,650.3 L671.1,649.3 L673.1,648.2 L675.2,647.1 L677.2,646.0 L679.2,644.9 L681.3,643.8 L683.3,642.7 L685.3,641.6 L687.4,640.4 L689.4,639.2 L691.4,638.1 L693.5,636.9 L695.5,635.7 L697.5,634.4 L699.6,633.2 L701.6,631.9 L703.6,630.6 L705.7,629.3 L707.7,627.9 L709.7,626.6 L711.8,625.2 L713.8,623.8 L715.8,622.3 L717.8,620.9 L719.9,619.4 L721.9,617.8 L723.9,616.3 L726.0,614.7 L728.0,613.1 L730.0,611.5 L732.1,609.9 L734.1,608.2 L736.1,606.5 L738.2,604.7 L740.2,603.0 L742.2,601.2 L744.3,599.5 L746.3,597.7 L748.3,595.9 L750.4,594.1 L752.4,592.3 L754.4,590.5 L756.5,588.6 L758.5,586.8 L760.5,584.9 L762.6,583.1 L764.6,581.2 L766.6,579.3 L768.7,577.3 L770.7,575.4 L772.7,573.5 L774.8,571.5 L776.8,569.5 L778.8,567.5 L780.9,565.5 L782.9,563.5 L784.9,561.5 L787.0,559.4 L789.0,557.4 L791.0,555.3 L793.1,553.3 L795.1,551.2 L797.1,549.1 L799.2,547.0 L801.2,544.9 L803.2,542.8 L805.3,540.7 L807.3,538.6 L809.3,536.5 L811.4,534.4 L813.4,532.3 L815.4,530.1 L817.5,527.9 L819.5,525.7 L820.6,527.0 L822.6,524.8 L824.7,522.5 L826.7,520.2 L828.7,518.0 L830.8,515.6 L832.8,513.3 L834.8,511.0 L836.9,508.6 L838.9,506.3 L840.9,503.9 L843.0,501.6 L845.0,499.2 L847.0,496.8 L849.1,494.4 L851.1,492.0 L853.1,489.5 L855.2,487.1 L857.2,484.6 L859.2,482.2 L861.3,479.7 L863.3,477.2 L865.4,474.7 L867.4,472.2 L869.4,469.6 L871.5,467.1 L873.5,464.5 L875.5,462.0 L877.6,459.4 L879.6,456.8 L881.6,454.2 L883.7,451.5 L885.7,448.9 L887.7,446.3 L889.8,443.6 L891.8,440.9 L893.8,438.3 L895.9,435.6 L897.9,432.9 L899.9,430.1 L902.0,427.4 L904.0,424.7 L906.0,421.9 L908.1,419.2 L910.1,416.4 L912.1,413.7 L914.2,410.9 L916.2,408.1 L918.2,405.3 L920.3,402.5 L922.3,399.8 L924.3,397.0 L926.4,394.2 L928.4,391.3 L930.4,388.5 L932.5,385.7 L934.5,382.9 L936.6,380.1 L938.6,377.3 L940.6,374.5 L942.7,371.6 L944.7,368.8 L946.7,366.0 L948.8,363.1 L950.8,360.2 L952.8,357.4 L954.9,354.5 L956.9,351.6 L958.9,348.7 L961.0,345.8 L963.0,342.9 L965.0,339.9 L967.1,337.0 L969.1,334.0 L971.1,331.0 L973.2,328.0 L975.2,325.0 L977.2,322.0 L979.3,318.9 L981.3,315.9 L983.3,312.8 L985.4,309.7 L987.4,306.6 L989.4,303.5 L991.5,300.4 L993.5,297.3 L995.5,294.2 L997.6,291.1 L999.6,288.0 L1001.6,284.9 L1003.7,281.8 L1005.7,278.7 L1007.7,275.6 L1009.8,272.5 L1011.8,269.3 L1013.9,266.2 L1015.9,263.1 L1017.9,259.9 L1020.0,256.8 L1022.0,253.7 L1024.0,250.5 L1026.1,247.3 L1028.1,244.2 L1030.1,241.0 L1032.2,237.8 L1034.2,234.7 L1036.2,231.5 L1038.3,228.3 L1040.3,225.1 L1042.3,221.9 L1044.4,218.7 L1046.4,215.5 L1048.4,212.4 L1050.5,209.2 L1052.5,206.0 L1056.3,205.7 L1058.4,202.2 L1060.6,198.8 L1062.7,195.4 L1064.8,191.9 L1067.0,188.5 L1069.1,185.1 L1071.2,181.6 L1073.4,178.2 L1075.5,174.8 L1077.6,171.3 L1079.8,167.9 L1081.9,164.4 L1084.0,160.9 L1086.2,157.4 L1088.3,154.0 L1090.4,150.4 L1092.6,146.9 L1094.7,143.4 L1096.8,139.8 L1099.0,136.2 L1101.1,132.7 L1103.2,129.1 L1105.4,125.5 L1107.5,121.9 L1109.6,118.4 L1111.8,114.8 L1113.9,111.2" stroke="#E03A3E" stroke-width="3.1"/>
<path d="M162.7,709.6 L164.7,709.6 L166.7,709.5 L168.7,709.5 L170.7,709.4 L172.7,709.3 L174.8,709.3 L176.8,709.2 L178.8,709.2 L180.8,709.1 L182.8,709.1 L184.8,709.0 L186.9,708.9 L188.9,708.9 L190.9,708.8 L192.9,708.8 L194.9,708.7 L197.0,708.7 L199.0,708.6 L201.0,708.5 L203.0,708.5 L205.0,708.4 L207.0,708.4 L209.1,708.3 L211.1,708.3 L213.1,708.3 L215.1,708.2 L217.1,708.2 L219.1,708.1 L221.2,708.1 L223.2,708.0 L225.2,708.0 L227.2,707.9 L229.2,707.9 L231.3,707.9 L233.3,707.8 L235.3,707.8 L237.3,707.7 L239.3,707.7 L241.3,707.7 L243.4,707.6 L245.4,707.6 L247.4,707.5 L249.4,707.5 L251.4,707.5 L253.4,707.4 L255.5,707.4 L257.5,707.3 L259.5,707.3 L261.5,707.3 L263.5,707.2 L265.6,707.2 L267.6,707.1 L269.6,707.1 L271.6,707.1 L273.6,707.0 L275.6,707.0 L277.7,707.0 L279.7,706.9 L281.7,706.9 L283.7,706.9 L285.7,706.8 L287.7,706.8 L289.8,706.8 L291.8,706.7 L293.8,706.7 L295.8,706.7 L297.8,706.6 L299.9,706.6 L301.9,706.6 L303.9,706.5 L305.9,706.5 L307.9,706.5 L309.9,706.5 L312.0,706.4 L314.0,706.4 L316.0,706.4 L318.0,706.4 L320.0,706.4 L322.0,706.3 L324.1,706.3 L326.1,706.3 L328.1,706.3 L330.1,706.3 L332.1,706.3 L334.2,706.3 L336.2,706.3 L338.2,706.3 L340.2,706.3 L342.2,706.3 L344.2,706.3 L346.3,706.3 L348.3,706.3 L350.3,706.3 L352.3,706.3 L354.3,706.3 L356.3,706.3 L358.4,706.3 L360.4,706.4 L362.4,706.4 L364.4,706.4 L366.4,706.4 L368.5,706.5 L370.5,706.5 L372.5,706.5 L374.5,706.6 L376.5,706.6 L378.5,706.7 L380.6,706.7 L382.6,706.8 L384.6,706.8 L386.6,706.9 L388.6,707.0 L390.6,707.0 L392.7,707.1 L394.7,707.2 L396.7,707.3 L398.7,707.3 L400.7,707.4 L402.8,707.5 L404.8,707.6 L406.8,707.7 L408.8,707.8 L410.8,707.9 L412.8,708.0 L414.9,708.1 L416.9,708.2 L418.9,708.3 L420.9,708.4 L422.9,708.5 L424.9,708.6 L427.0,708.6 L429.0,708.7 L431.0,708.8 L433.0,708.8 L435.0,708.9 L437.1,708.9 L439.1,709.0 L441.1,709.0 L443.1,709.0 L445.1,709.0 L447.1,709.0 L449.2,708.9 L451.2,708.9 L453.2,708.8 L455.2,708.8 L457.2,708.7 L459.2,708.5 L461.3,708.4 L463.3,708.3 L465.3,708.1 L467.3,707.9 L469.3,707.8 L471.4,707.6 L473.4,707.4 L475.4,707.1 L477.4,706.9 L479.4,706.7 L481.4,706.4 L483.5,706.2 L485.5,705.9 L487.5,705.6 L489.5,705.4 L491.5,705.1 L493.5,704.8 L495.6,704.5 L497.6,704.2 L499.6,703.9 L501.6,703.6 L503.6,703.3 L505.7,703.0 L507.7,702.7 L509.7,702.3 L511.7,702.0 L513.7,701.7 L515.7,701.3 L517.8,700.9 L519.8,700.5 L521.8,700.2 L523.8,699.7 L525.8,699.3 L527.8,698.9 L529.9,698.4 L531.9,698.0 L533.9,697.5 L535.9,697.1 L537.9,696.6 L540.0,696.1 L542.0,695.7 L544.0,695.2 L546.0,694.7 L548.0,694.2 L550.0,693.7 L552.1,693.2 L554.1,692.6 L556.1,692.1 L558.1,691.6 L560.1,691.0 L562.1,690.5 L564.2,689.9 L566.2,689.3 L568.2,688.7 L570.2,688.1 L572.2,687.5 L574.3,686.9 L576.3,686.3 L578.3,685.7 L580.3,685.0 L582.3,684.4 L584.3,683.7 L586.4,683.1 L588.4,682.4 L590.4,681.7 L592.4,681.1 L594.4,680.4 L596.4,679.7 L598.5,679.1 L600.5,678.4 L602.5,677.7 L603.5,677.4 L605.5,676.7 L607.6,676.1 L609.6,675.4 L611.6,674.7 L613.7,674.0 L615.7,673.3 L617.7,672.5 L619.8,671.8 L621.8,671.0 L623.8,670.3 L625.9,669.5 L627.9,668.7 L629.9,667.9 L631.9,667.0 L634.0,666.2 L636.0,665.3 L638.0,664.4 L640.1,663.6 L642.1,662.7 L644.1,661.7 L646.2,660.8 L648.2,659.9 L650.2,658.9 L652.3,657.9 L654.3,657.0 L656.3,656.0 L658.4,655.0 L660.4,654.0 L662.4,652.9 L664.5,651.9 L666.5,650.8 L668.5,649.8 L670.6,648.7 L672.6,647.6 L674.6,646.5 L676.7,645.4 L678.7,644.3 L680.7,643.2 L682.8,642.1 L684.8,640.9 L686.8,639.8 L688.8,638.6 L690.9,637.4 L692.9,636.2 L694.9,634.9 L697.0,633.7 L699.0,632.4 L701.0,631.1 L703.1,629.8 L705.1,628.4 L707.1,627.1 L709.2,625.7 L711.2,624.3 L713.2,622.8 L715.3,621.4 L717.3,619.9 L719.3,618.3 L721.4,616.8 L723.4,615.2 L725.4,613.6 L727.5,612.0 L729.5,610.4 L731.5,608.7 L733.6,607.0 L735.6,605.2 L737.6,603.5 L739.6,601.7 L741.7,599.9 L743.7,598.1 L745.7,596.3 L747.8,594.5 L749.8,592.7 L751.8,590.9 L753.9,589.0 L755.9,587.2 L757.9,585.3 L760.0,583.4 L762.0,581.5 L764.0,579.6 L766.1,577.7 L768.1,575.7 L770.1,573.8 L772.2,571.8 L774.2,569.8 L776.2,567.8 L778.3,565.8 L780.3,563.8 L782.3,561.7 L784.4,559.7 L786.4,557.6 L788.4,555.5 L790.5,553.5 L792.5,551.4 L794.5,549.3 L796.5,547.2 L798.6,545.1 L800.6,543.0 L802.6,540.9 L804.7,538.7 L806.7,536.6 L808.7,534.5 L810.8,532.3 L812.8,530.1 L814.8,527.9 L816.9,525.7 L818.9,523.4 L820.5,524.1 L822.5,521.9 L824.6,519.6 L826.6,517.3 L828.6,515.0 L830.6,512.6 L832.7,510.3 L834.7,507.9 L836.7,505.6 L838.7,503.2 L840.8,500.8 L842.8,498.4 L844.8,496.0 L846.8,493.6 L848.9,491.2 L850.9,488.7 L852.9,486.3 L854.9,483.8 L857.0,481.3 L859.0,478.8 L861.0,476.3 L863.0,473.8 L865.1,471.3 L867.1,468.7 L869.1,466.2 L871.2,463.6 L873.2,461.0 L875.2,458.4 L877.2,455.8 L879.3,453.2 L881.3,450.6 L883.3,447.9 L885.3,445.2 L887.4,442.6 L889.4,439.9 L891.4,437.2 L893.4,434.5 L895.5,431.8 L897.5,429.1 L899.5,426.3 L901.5,423.6 L903.6,420.8 L905.6,418.1 L907.6,415.3 L909.6,412.5 L911.7,409.7 L913.7,406.9 L915.7,404.1 L917.8,401.3 L919.8,398.5 L921.8,395.7 L923.8,392.9 L925.9,390.1 L927.9,387.3 L929.9,384.5 L931.9,381.6 L934.0,378.8 L936.0,376.0 L938.0,373.2 L940.0,370.3 L942.1,367.5 L944.1,364.6 L946.1,361.7 L948.1,358.9 L950.2,356.0 L952.2,353.1 L954.2,350.2 L956.2,347.3 L958.3,344.3 L960.3,341.4 L962.3,338.5 L964.4,335.5 L966.4,332.5 L968.4,329.5 L970.4,326.5 L972.5,323.4 L974.5,320.4 L976.5,317.3 L978.5,314.2 L980.6,311.1 L982.6,308.0 L984.6,304.9 L986.6,301.8 L988.7,298.7 L990.7,295.6 L992.7,292.5 L994.7,289.4 L996.8,286.3 L998.8,283.2 L1000.8,280.0 L1002.8,276.9 L1004.9,273.8 L1006.9,270.7 L1008.9,267.5 L1011.0,264.4 L1013.0,261.2 L1015.0,258.1 L1017.0,254.9 L1019.1,251.8 L1021.1,248.6 L1023.1,245.5 L1025.1,242.3 L1027.2,239.1 L1029.2,235.9 L1031.2,232.7 L1033.2,229.5 L1035.3,226.3 L1037.3,223.1 L1039.3,219.9 L1041.3,216.7 L1043.4,213.5 L1045.4,210.3 L1047.4,207.1 L1049.4,203.9 L1051.5,200.7 L1053.5,197.5 L1055.0,198.1 L1057.1,194.8 L1059.2,191.6 L1061.3,188.3 L1063.4,185.0 L1065.5,181.8 L1067.6,178.5 L1069.7,175.2 L1071.8,171.9 L1073.9,168.7 L1076.0,165.4 L1078.1,162.1 L1080.2,158.8 L1082.3,155.4 L1084.5,152.1 L1086.6,148.7 L1088.7,145.4 L1090.8,142.0 L1092.9,138.6 L1095.0,135.2 L1097.1,131.8 L1099.2,128.4 L1101.3,125.0 L1103.4,121.6 L1105.5,118.2 L1107.6,114.8 L1109.7,111.4 L1111.8,108.0 L1113.9,104.6" stroke="#963D97" stroke-width="3.1"/>
<path d="M162.7,709.6 L164.7,709.6 L166.7,709.5 L168.7,709.5 L170.7,709.4 L172.7,709.3 L174.8,709.3 L176.8,709.2 L178.8,709.2 L180.8,709.1 L182.8,709.1 L184.8,709.0 L186.9,708.9 L188.9,708.9 L190.9,708.8 L192.9,708.8 L194.9,708.7 L197.0,708.7 L199.0,708.6 L201.0,708.5 L203.0,708.5 L205.0,708.4 L207.0,708.4 L209.1,708.3 L211.1,708.3 L213.1,708.3 L215.1,708.2 L217.1,708.2 L219.1,708.1 L221.2,708.1 L223.2,708.0 L225.2,708.0 L227.2,707.9 L229.2,707.9 L231.3,707.9 L233.3,707.8 L235.3,707.8 L237.3,707.7 L239.3,707.7 L241.3,707.7 L243.4,707.6 L245.4,707.6 L247.4,707.5 L249.4,707.5 L251.4,707.5 L253.4,707.4 L255.5,707.4 L257.5,707.3 L259.5,707.3 L261.5,707.3 L263.5,707.2 L265.6,707.2 L267.6,707.1 L269.6,707.1 L271.6,707.1 L273.6,707.0 L275.6,707.0 L277.7,707.0 L279.7,706.9 L281.7,706.9 L283.7,706.9 L285.7,706.8 L287.7,706.8 L289.8,706.8 L291.8,706.7 L293.8,706.7 L295.8,706.7 L297.8,706.6 L299.9,706.6 L301.9,706.6 L303.9,706.5 L305.9,706.5 L307.9,706.5 L309.9,706.5 L312.0,706.4 L314.0,706.4 L316.0,706.4 L318.0,706.4 L320.0,706.4 L322.0,706.4 L324.1,706.3 L326.1,706.3 L328.1,706.3 L330.1,706.3 L332.1,706.3 L334.2,706.3 L336.2,706.3 L338.2,706.3 L340.2,706.3 L342.2,706.3 L344.2,706.3 L346.3,706.3 L348.3,706.3 L350.3,706.3 L352.3,706.3 L354.3,706.3 L356.3,706.3 L358.4,706.3 L360.4,706.4 L362.4,706.4 L364.4,706.4 L366.4,706.4 L368.5,706.5 L370.5,706.5 L372.5,706.5 L374.5,706.6 L376.5,706.6 L378.5,706.7 L380.6,706.7 L382.6,706.8 L384.6,706.8 L386.6,706.9 L388.6,707.0 L390.6,707.0 L392.7,707.1 L394.7,707.2 L396.7,707.3 L398.7,707.3 L400.7,707.4 L402.8,707.5 L404.8,707.6 L406.8,707.7 L408.8,707.8 L410.8,707.9 L412.8,708.0 L414.9,708.1 L416.9,708.2 L418.9,708.3 L420.9,708.4 L422.9,708.5 L424.9,708.6 L427.0,708.6 L429.0,708.7 L431.0,708.8 L433.0,708.8 L435.0,708.9 L437.1,708.9 L439.1,709.0 L441.1,709.0 L443.1,709.0 L445.1,709.0 L447.1,709.0 L449.2,708.9 L451.2,708.9 L453.2,708.8 L455.2,708.8 L457.2,708.7 L459.2,708.6 L461.3,708.4 L463.3,708.3 L465.3,708.1 L467.3,708.0 L469.3,707.8 L471.4,707.6 L473.4,707.4 L475.4,707.2 L477.4,706.9 L479.4,706.7 L481.4,706.4 L483.5,706.2 L485.5,705.9 L487.5,705.7 L489.5,705.4 L491.5,705.1 L493.5,704.8 L495.6,704.5 L497.6,704.3 L499.6,704.0 L501.6,703.7 L503.6,703.3 L505.7,703.0 L507.7,702.7 L509.7,702.4 L511.7,702.0 L513.7,701.7 L515.7,701.3 L517.8,701.0 L519.8,700.6 L521.8,700.2 L523.8,699.8 L525.8,699.4 L527.8,698.9 L529.9,698.5 L531.9,698.1 L533.9,697.6 L535.9,697.1 L537.9,696.7 L540.0,696.2 L542.0,695.7 L544.0,695.2 L546.0,694.7 L548.0,694.2 L550.0,693.7 L552.1,693.2 L554.1,692.7 L556.1,692.2 L558.1,691.6 L560.1,691.1 L562.1,690.5 L564.2,690.0 L566.2,689.4 L568.2,688.8 L570.2,688.2 L572.2,687.6 L574.3,687.0 L576.3,686.4 L578.3,685.7 L580.3,685.1 L582.3,684.5 L584.3,683.8 L586.4,683.2 L588.4,682.5 L590.4,681.8 L592.4,681.2 L594.4,680.5 L596.4,679.8 L598.5,679.2 L600.5,678.5 L602.5,677.8 L603.5,677.5 L605.5,676.8 L607.6,676.2 L609.6,675.5 L611.6,674.8 L613.6,674.1 L615.7,673.4 L617.7,672.7 L619.7,672.0 L621.8,671.2 L623.8,670.5 L625.8,669.7 L627.8,668.9 L629.9,668.1 L631.9,667.3 L633.9,666.4 L636.0,665.6 L638.0,664.7 L640.0,663.8 L642.0,663.0 L644.1,662.0 L646.1,661.1 L648.1,660.2 L650.2,659.3 L652.2,658.3 L654.2,657.3 L656.2,656.4 L658.3,655.4 L660.3,654.4 L662.3,653.4 L664.3,652.3 L666.4,651.3 L668.4,650.3 L670.4,649.2 L672.5,648.1 L674.5,647.0 L676.5,646.0 L678.5,644.9 L680.6,643.8 L682.6,642.6 L684.6,641.5 L686.7,640.4 L688.7,639.2 L690.7,638.0 L692.7,636.8 L694.8,635.6 L696.8,634.4 L698.8,633.2 L700.9,631.9 L702.9,630.6 L704.9,629.3 L706.9,627.9 L709.0,626.6 L711.0,625.2 L713.0,623.8 L715.1,622.3 L717.1,620.9 L719.1,619.4 L721.1,617.9 L723.2,616.3 L725.2,614.8 L727.2,613.2 L729.3,611.6 L731.3,609.9 L733.3,608.2 L735.3,606.5 L737.4,604.8 L739.4,603.1 L741.4,601.3 L743.5,599.5 L745.5,597.8 L747.5,596.0 L749.5,594.2 L751.6,592.4 L753.6,590.6 L755.6,588.7 L757.7,586.9 L759.7,585.1 L761.7,583.2 L763.7,581.3 L765.8,579.4 L767.8,577.5 L769.8,575.6 L771.8,573.6 L773.9,571.7 L775.9,569.7 L777.9,567.7 L780.0,565.7 L782.0,563.7 L784.0,561.7 L786.0,559.6 L788.1,557.6 L790.1,555.5 L792.1,553.5 L794.2,551.4 L796.2,549.3 L798.2,547.3 L800.2,545.2 L802.3,543.1 L804.3,541.0 L806.3,538.9 L808.4,536.8 L810.4,534.7 L812.4,532.6 L814.4,530.4 L816.5,528.2 L818.5,526.0 L820.5,524.4 L822.5,522.1 L824.5,519.9 L826.6,517.6 L828.6,515.3 L830.6,513.0 L832.6,510.6 L834.7,508.3 L836.7,506.0 L838.7,503.6 L840.7,501.2 L842.7,498.9 L844.8,496.5 L846.8,494.1 L848.8,491.7 L850.8,489.3 L852.8,486.8 L854.9,484.4 L856.9,481.9 L858.9,479.5 L860.9,477.0 L863.0,474.5 L865.0,472.0 L867.0,469.5 L869.0,466.9 L871.0,464.4 L873.1,461.8 L875.1,459.3 L877.1,456.7 L879.1,454.1 L881.2,451.5 L883.2,448.9 L885.2,446.2 L887.2,443.6 L889.2,440.9 L891.3,438.2 L893.3,435.6 L895.3,432.9 L897.3,430.2 L899.3,427.5 L901.4,424.8 L903.4,422.0 L905.4,419.3 L907.4,416.6 L909.5,413.8 L911.5,411.0 L913.5,408.3 L915.5,405.5 L917.5,402.7 L919.6,400.0 L921.6,397.2 L923.6,394.4 L925.6,391.6 L927.7,388.8 L929.7,386.0 L931.7,383.2 L933.7,380.4 L935.7,377.6 L937.8,374.8 L939.8,372.0 L941.8,369.2 L943.8,366.3 L945.8,363.5 L947.9,360.7 L949.9,357.8 L951.9,354.9 L953.9,352.1 L956.0,349.2 L958.0,346.3 L960.0,343.4 L962.0,340.5 L964.0,337.5 L966.1,334.6 L968.1,331.6 L970.1,328.6 L972.1,325.6 L974.2,322.6 L976.2,319.6 L978.2,316.5 L980.2,313.5 L982.2,310.4 L984.3,307.3 L986.3,304.3 L988.3,301.2 L990.3,298.1 L992.3,295.0 L994.4,291.9 L996.4,288.9 L998.4,285.8 L1000.4,282.7 L1002.5,279.6 L1004.5,276.5 L1006.5,273.4 L1008.5,270.3 L1010.5,267.2 L1012.6,264.0 L1014.6,260.9 L1016.6,257.8 L1018.6,254.7 L1020.7,251.5 L1022.7,248.4 L1024.7,245.3 L1026.7,242.1 L1028.7,239.0 L1030.8,235.8 L1032.8,232.6 L1034.8,229.5 L1036.8,226.3 L1038.8,223.1 L1040.9,220.0 L1042.9,216.8 L1044.9,213.6 L1046.9,210.4 L1049.0,207.3 L1051.0,204.1 L1053.0,200.9 L1054.5,200.3 L1056.6,197.0 L1058.7,193.7 L1060.9,190.3 L1063.0,187.0 L1065.1,183.7 L1067.2,180.4 L1069.3,177.1 L1071.5,173.7 L1073.6,170.4 L1075.7,167.1 L1077.8,163.7 L1080.0,160.3 L1082.1,157.0 L1084.2,153.6 L1086.3,150.2 L1088.4,146.8 L1090.6,143.4 L1092.7,139.9 L1094.8,136.5 L1096.9,133.0 L1099.1,129.6 L1101.2,126.1 L1103.3,122.6 L1105.4,119.2 L1107.5,115.7 L1109.7,112.3 L1111.8,108.8 L1113.9,105.4" stroke="#009DDC" stroke-width="3.1"/>
<path d="M162.7,709.6 L164.7,709.6 L166.7,709.5 L168.7,709.5 L170.7,709.4 L172.7,709.4 L174.7,709.3 L176.7,709.2 L178.7,709.2 L180.7,709.1 L182.8,709.1 L184.8,709.0 L186.8,708.9 L188.8,708.9 L190.8,708.8 L192.8,708.8 L194.8,708.7 L196.8,708.7 L198.8,708.6 L200.9,708.6 L202.9,708.5 L204.9,708.4 L206.9,708.4 L208.9,708.4 L210.9,708.3 L212.9,708.3 L214.9,708.2 L216.9,708.2 L219.0,708.1 L221.0,708.1 L223.0,708.0 L225.0,708.0 L227.0,708.0 L229.0,707.9 L231.0,707.9 L233.0,707.8 L235.0,707.8 L237.0,707.7 L239.1,707.7 L241.1,707.7 L243.1,707.6 L245.1,707.6 L247.1,707.5 L249.1,707.5 L251.1,707.5 L253.1,707.4 L255.1,707.4 L257.2,707.3 L259.2,707.3 L261.2,707.3 L263.2,707.2 L265.2,707.2 L267.2,707.2 L269.2,707.1 L271.2,707.1 L273.2,707.0 L275.3,707.0 L277.3,707.0 L279.3,706.9 L281.3,706.9 L283.3,706.9 L285.3,706.8 L287.3,706.8 L289.3,706.8 L291.3,706.7 L293.3,706.7 L295.4,706.7 L297.4,706.6 L299.4,706.6 L301.4,706.6 L303.4,706.6 L305.4,706.5 L307.4,706.5 L309.4,706.5 L311.4,706.5 L313.5,706.4 L315.5,706.4 L317.5,706.4 L319.5,706.4 L321.5,706.4 L323.5,706.3 L325.5,706.3 L327.5,706.3 L329.5,706.3 L331.6,706.3 L333.6,706.3 L335.6,706.3 L337.6,706.3 L339.6,706.3 L341.6,706.3 L343.6,706.3 L345.6,706.3 L347.6,706.3 L349.6,706.3 L351.7,706.3 L353.7,706.3 L355.7,706.3 L357.7,706.3 L359.7,706.3 L361.7,706.4 L363.7,706.4 L365.7,706.4 L367.7,706.4 L369.8,706.5 L371.8,706.5 L373.8,706.6 L375.8,706.6 L377.8,706.6 L379.8,706.7 L381.8,706.7 L383.8,706.8 L385.8,706.9 L387.9,706.9 L389.9,707.0 L391.9,707.1 L393.9,707.1 L395.9,707.2 L397.9,707.3 L399.9,707.4 L401.9,707.5 L403.9,707.6 L405.9,707.7 L408.0,707.7 L410.0,707.8 L412.0,707.9 L414.0,708.0 L416.0,708.1 L418.0,708.2 L420.0,708.3 L422.0,708.4 L424.0,708.5 L426.1,708.6 L428.1,708.7 L430.1,708.7 L432.1,708.8 L434.1,708.9 L436.1,708.9 L438.1,708.9 L440.1,709.0 L442.1,709.0 L444.2,709.0 L446.2,709.0 L448.2,709.0 L450.2,708.9 L452.2,708.9 L454.2,708.8 L456.2,708.7 L458.2,708.6 L460.2,708.5 L462.2,708.4 L464.3,708.2 L466.3,708.1 L468.3,707.9 L470.3,707.7 L472.3,707.5 L474.3,707.3 L476.3,707.1 L478.3,706.9 L480.3,706.6 L482.4,706.4 L484.4,706.1 L486.4,705.9 L488.4,705.6 L490.4,705.3 L492.4,705.0 L494.4,704.8 L496.4,704.5 L498.4,704.2 L500.5,703.9 L502.5,703.6 L504.5,703.3 L506.5,703.0 L508.5,702.6 L510.5,702.3 L512.5,702.0 L514.5,701.6 L516.5,701.3 L518.5,700.9 L520.6,700.5 L522.6,700.1 L524.6,699.7 L526.6,699.3 L528.6,698.9 L530.6,698.4 L532.6,698.0 L534.6,697.5 L536.6,697.1 L538.7,696.6 L540.7,696.1 L542.7,695.6 L544.7,695.2 L546.7,694.7 L548.7,694.2 L550.7,693.7 L552.7,693.2 L554.7,692.6 L556.8,692.1 L558.8,691.6 L560.8,691.0 L562.8,690.5 L564.8,689.9 L566.8,689.3 L568.8,688.8 L570.8,688.2 L572.8,687.6 L574.8,687.0 L576.9,686.3 L578.9,685.7 L580.9,685.1 L582.9,684.4 L584.9,683.8 L586.9,683.1 L588.9,682.5 L590.9,681.8 L592.9,681.2 L595.0,680.5 L597.0,679.8 L599.0,679.2 L601.0,678.5 L603.0,677.8 L603.0,677.8 L605.0,677.2 L607.1,676.5 L609.1,675.8 L611.1,675.1 L613.1,674.5 L615.2,673.8 L617.2,673.1 L619.2,672.3 L621.3,671.6 L623.3,670.8 L625.3,670.1 L627.3,669.3 L629.4,668.5 L631.4,667.7 L633.4,666.9 L635.4,666.0 L637.5,665.2 L639.5,664.3 L641.5,663.4 L643.6,662.5 L645.6,661.6 L647.6,660.7 L649.6,659.8 L651.7,658.8 L653.7,657.9 L655.7,656.9 L657.8,655.9 L659.8,654.9 L661.8,653.9 L663.8,652.9 L665.9,651.9 L667.9,650.8 L669.9,649.8 L672.0,648.7 L674.0,647.6 L676.0,646.6 L678.0,645.5 L680.1,644.4 L682.1,643.3 L684.1,642.1 L686.1,641.0 L688.2,639.9 L690.2,638.7 L692.2,637.5 L694.3,636.3 L696.3,635.1 L698.3,633.9 L700.3,632.6 L702.4,631.3 L704.4,630.0 L706.4,628.7 L708.5,627.3 L710.5,626.0 L712.5,624.6 L714.5,623.2 L716.6,621.7 L718.6,620.2 L720.6,618.8 L722.7,617.2 L724.7,615.7 L726.7,614.1 L728.7,612.5 L730.8,610.9 L732.8,609.2 L734.8,607.5 L736.9,605.8 L738.9,604.1 L740.9,602.4 L742.9,600.6 L745.0,598.8 L747.0,597.1 L749.0,595.3 L751.0,593.5 L753.1,591.7 L755.1,589.9 L757.1,588.0 L759.2,586.2 L761.2,584.3 L763.2,582.5 L765.2,580.6 L767.3,578.7 L769.3,576.8 L771.3,574.8 L773.4,572.9 L775.4,570.9 L777.4,569.0 L779.4,567.0 L781.5,565.0 L783.5,562.9 L785.5,560.9 L787.6,558.9 L789.6,556.8 L791.6,554.8 L793.6,552.7 L795.7,550.7 L797.7,548.6 L799.7,546.5 L801.7,544.4 L803.8,542.4 L805.8,540.3 L807.8,538.2 L809.9,536.1 L811.9,533.9 L813.9,531.8 L815.9,529.6 L818.0,527.5 L820.0,525.2 L820.0,525.2 L822.0,523.0 L824.1,520.7 L826.1,518.5 L828.1,516.2 L830.1,513.9 L832.2,511.6 L834.2,509.2 L836.2,506.9 L838.2,504.5 L840.3,502.2 L842.3,499.8 L844.3,497.4 L846.3,495.0 L848.4,492.6 L850.4,490.2 L852.4,487.8 L854.4,485.4 L856.5,482.9 L858.5,480.5 L860.5,478.0 L862.5,475.5 L864.6,473.0 L866.6,470.5 L868.6,467.9 L870.7,465.4 L872.7,462.8 L874.7,460.3 L876.7,457.7 L878.8,455.1 L880.8,452.5 L882.8,449.9 L884.8,447.3 L886.9,444.6 L888.9,442.0 L890.9,439.3 L892.9,436.6 L895.0,433.9 L897.0,431.3 L899.0,428.5 L901.0,425.8 L903.1,423.1 L905.1,420.4 L907.1,417.6 L909.1,414.9 L911.2,412.1 L913.2,409.4 L915.2,406.6 L917.3,403.8 L919.3,401.1 L921.3,398.3 L923.3,395.5 L925.4,392.7 L927.4,389.9 L929.4,387.1 L931.4,384.3 L933.5,381.5 L935.5,378.7 L937.5,375.9 L939.5,373.1 L941.6,370.3 L943.6,367.5 L945.6,364.6 L947.6,361.8 L949.7,358.9 L951.7,356.1 L953.7,353.2 L955.7,350.3 L957.8,347.4 L959.8,344.5 L961.8,341.6 L963.9,338.7 L965.9,335.7 L967.9,332.8 L969.9,329.8 L972.0,326.8 L974.0,323.8 L976.0,320.8 L978.0,317.7 L980.1,314.7 L982.1,311.6 L984.1,308.6 L986.1,305.5 L988.2,302.4 L990.2,299.3 L992.2,296.2 L994.2,293.2 L996.3,290.1 L998.3,287.0 L1000.3,283.9 L1002.3,280.8 L1004.4,277.7 L1006.4,274.6 L1008.4,271.5 L1010.5,268.4 L1012.5,265.3 L1014.5,262.2 L1016.5,259.0 L1018.6,255.9 L1020.6,252.8 L1022.6,249.6 L1024.6,246.5 L1026.7,243.4 L1028.7,240.2 L1030.7,237.1 L1032.7,233.9 L1034.8,230.7 L1036.8,227.6 L1038.8,224.4 L1040.8,221.2 L1042.9,218.0 L1044.9,214.9 L1046.9,211.7 L1048.9,208.5 L1051.0,205.3 L1053.0,202.2 L1053.0,202.2 L1055.1,198.9 L1057.2,195.6 L1059.3,192.3 L1061.4,189.0 L1063.5,185.7 L1065.6,182.5 L1067.7,179.2 L1069.8,175.9 L1071.9,172.6 L1074.0,169.3 L1076.1,166.0 L1078.2,162.7 L1080.3,159.3 L1082.4,156.0 L1084.5,152.6 L1086.6,149.3 L1088.7,145.9 L1090.8,142.5 L1092.9,139.1 L1095.0,135.7 L1097.1,132.3 L1099.2,128.8 L1101.3,125.4 L1103.4,122.0 L1105.5,118.6 L1107.6,115.1 L1109.7,111.7 L1111.8,108.3 L1113.9,104.9" stroke="#969696" stroke-width="3.1"/>
</g>
<rect x="115.05" y="60.5" width="1046.25" height="680.00" fill="none" stroke="#000" stroke-width="2.5" stroke-linejoin="miter" stroke-linecap="square"/>
<path d="M162.65,740.50 L162.65,751.47 M352.90,740.50 L352.90,751.47 M543.15,740.50 L543.15,751.47 M733.40,740.50 L733.40,751.47 M923.65,740.50 L923.65,751.47 M1113.90,740.50 L1113.90,751.47 M115.05,709.65 L104.08,709.65 M115.05,607.30 L104.08,607.30 M115.05,504.95 L104.08,504.95 M115.05,402.60 L104.08,402.60 M115.05,300.25 L104.08,300.25 M115.05,197.90 L104.08,197.90 M115.05,95.55 L104.08,95.55" stroke="#000" stroke-width="2.5" fill="none"/>
<rect x="130.5" y="76.4" width="213.0" height="377.0" rx="4.5" ry="4.5" fill="#ffffff" fill-opacity="0.8" stroke="#cccccc" stroke-opacity="0.8" stroke-width="3.1"/>
<path d="M142.7,101.50 L205.3,101.50" stroke="#000000" stroke-width="3.7" stroke-linecap="square"/>
<text transform="translate(231.40,113.00) scale(0.9539,1)" font-size="33.10">1</text>
<text transform="translate(251.08,113.00) scale(0.9988,1)" font-size="33.10">4</text>
<text transform="translate(270.74,113.00) scale(1.0795,1)" font-size="33.10">m</text>
<text transform="translate(301.29,113.00) scale(1.0795,1)" font-size="33.10">m</text>
<path d="M142.7,147.50 L205.3,147.50" stroke="#61BB46" stroke-width="3.1" stroke-linecap="square"/>
<text transform="translate(231.40,159.00) scale(0.9539,1)" font-size="33.10">1</text>
<text transform="translate(251.01,159.00) scale(0.9627,1)" font-size="33.10">2</text>
<text transform="translate(270.74,159.00) scale(1.0795,1)" font-size="33.10">m</text>
<text transform="translate(301.29,159.00) scale(1.0795,1)" font-size="33.10">m</text>
<path d="M142.7,193.50 L205.3,193.50" stroke="#FDB827" stroke-width="3.1" stroke-linecap="square"/>
<text transform="translate(231.40,205.00) scale(0.9539,1)" font-size="33.10">1</text>
<text transform="translate(251.09,205.00) scale(0.9987,1)" font-size="33.10">0</text>
<text transform="translate(270.74,205.00) scale(1.0795,1)" font-size="33.10">m</text>
<text transform="translate(301.29,205.00) scale(1.0795,1)" font-size="33.10">m</text>
<path d="M142.7,239.50 L205.3,239.50" stroke="#F5821F" stroke-width="3.1" stroke-linecap="square"/>
<text transform="translate(231.04,251.00) scale(1.0095,1)" font-size="33.10">8</text>
<text transform="translate(250.79,251.00) scale(1.0795,1)" font-size="33.10">m</text>
<text transform="translate(281.34,251.00) scale(1.0795,1)" font-size="33.10">m</text>
<path d="M142.7,285.50 L205.3,285.50" stroke="#E03A3E" stroke-width="3.1" stroke-linecap="square"/>
<text transform="translate(230.81,297.00) scale(1.0337,1)" font-size="33.10">6</text>
<text transform="translate(250.79,297.00) scale(1.0795,1)" font-size="33.10">m</text>
<text transform="translate(281.34,297.00) scale(1.0795,1)" font-size="33.10">m</text>
<path d="M142.7,331.50 L205.3,331.50" stroke="#963D97" stroke-width="3.1" stroke-linecap="square"/>
<text transform="translate(231.13,343.00) scale(0.9988,1)" font-size="33.10">4</text>
<text transform="translate(250.79,343.00) scale(1.0795,1)" font-size="33.10">m</text>
<text transform="translate(281.34,343.00) scale(1.0795,1)" font-size="33.10">m</text>
<path d="M142.7,377.50 L205.3,377.50" stroke="#009DDC" stroke-width="3.1" stroke-linecap="square"/>
<text transform="translate(231.05,389.00) scale(0.9627,1)" font-size="33.10">2</text>
<text transform="translate(250.79,389.00) scale(1.0795,1)" font-size="33.10">m</text>
<text transform="translate(281.34,389.00) scale(1.0795,1)" font-size="33.10">m</text>
<path d="M142.7,423.50 L205.3,423.50" stroke="#969696" stroke-width="3.1" stroke-linecap="square"/>
<text transform="translate(231.40,435.00) scale(0.9539,1)" font-size="33.10">1</text>
<text transform="translate(250.79,435.00) scale(1.0795,1)" font-size="33.10">m</text>
<text transform="translate(281.34,435.00) scale(1.0795,1)" font-size="33.10">m</text>
<g fill="#000000">
<text transform="translate(73.91,721.37) scale(0.9987,1)" font-size="33.10">0</text>
<text transform="translate(54.22,619.02) scale(0.9539,1)" font-size="33.10">1</text>
<text transform="translate(73.91,619.02) scale(0.9987,1)" font-size="33.10">0</text>
<text transform="translate(53.87,516.67) scale(0.9627,1)" font-size="33.10">2</text>
<text transform="translate(73.91,516.67) scale(0.9987,1)" font-size="33.10">0</text>
<text transform="translate(54.36,414.32) scale(0.9591,1)" font-size="33.10">3</text>
<text transform="translate(73.91,414.32) scale(0.9987,1)" font-size="33.10">0</text>
<text transform="translate(53.95,311.97) scale(0.9988,1)" font-size="33.10">4</text>
<text transform="translate(73.91,311.97) scale(0.9987,1)" font-size="33.10">0</text>
<text transform="translate(54.35,209.62) scale(0.9426,1)" font-size="33.10">5</text>
<text transform="translate(73.91,209.62) scale(0.9987,1)" font-size="33.10">0</text>
<text transform="translate(53.63,107.27) scale(1.0337,1)" font-size="33.10">6</text>
<text transform="translate(73.91,107.27) scale(0.9987,1)" font-size="33.10">0</text>
<text transform="translate(153.46,785.90) scale(0.9987,1)" font-size="33.10">0</text>
<text transform="translate(333.53,785.90) scale(0.9627,1)" font-size="33.10">2</text>
<text transform="translate(353.57,785.90) scale(0.9987,1)" font-size="33.10">0</text>
<text transform="translate(524.25,785.90) scale(0.9988,1)" font-size="33.10">4</text>
<text transform="translate(544.20,785.90) scale(0.9987,1)" font-size="33.10">0</text>
<text transform="translate(713.85,785.90) scale(1.0337,1)" font-size="33.10">6</text>
<text transform="translate(734.12,785.90) scale(0.9987,1)" font-size="33.10">0</text>
<text transform="translate(904.35,785.90) scale(1.0095,1)" font-size="33.10">8</text>
<text transform="translate(924.40,785.90) scale(0.9987,1)" font-size="33.10">0</text>
<text transform="translate(1084.33,785.90) scale(0.9539,1)" font-size="33.10">1</text>
<text transform="translate(1104.02,785.90) scale(0.9987,1)" font-size="33.10">0</text>
<text transform="translate(1123.97,785.90) scale(0.9987,1)" font-size="33.10">0</text>
<text transform="translate(431.47,829.80) scale(0.8379,1)" font-size="33.10">P</text>
<text transform="translate(448.86,829.80) scale(0.8520,1)" font-size="33.10">a</text>
<text transform="translate(467.60,829.80) scale(1.2663,1)" font-size="33.10">t</text>
<text transform="translate(480.17,829.80) scale(1.0286,1)" font-size="33.10">h</text>
<text transform="translate(510.21,829.80) scale(0.8520,1)" font-size="33.10">a</text>
<text transform="translate(529.54,829.80) scale(0.9685,1)" font-size="33.10">l</text>
<text transform="translate(537.79,829.80) scale(1.0072,1)" font-size="33.10">o</text>
<text transform="translate(557.25,829.80) scale(1.0215,1)" font-size="33.10">n</text>
<text transform="translate(576.82,829.80) scale(1.0297,1)" font-size="33.10">g</text>
<text transform="translate(607.05,829.80) scale(1.0308,1)" font-size="33.10">p</text>
<text transform="translate(626.48,829.80) scale(1.2139,1)" font-size="33.10">r</text>
<text transform="translate(638.82,829.80) scale(1.0072,1)" font-size="33.10">o</text>
<text transform="translate(658.33,829.80) scale(1.0308,1)" font-size="33.10">b</text>
<text transform="translate(677.87,829.80) scale(1.0233,1)" font-size="33.10">e</text>
<text transform="translate(697.18,829.80) scale(1.0297,1)" font-size="33.10">d</text>
<text transform="translate(727.55,829.80) scale(0.9685,1)" font-size="33.10">l</text>
<text transform="translate(736.27,829.80) scale(0.9685,1)" font-size="33.10">i</text>
<text transform="translate(744.78,829.80) scale(1.0215,1)" font-size="33.10">n</text>
<text transform="translate(764.34,829.80) scale(1.0233,1)" font-size="33.10">e</text>
<text transform="translate(793.68,829.80) scale(0.9870,1)" font-size="33.10">[</text>
<text transform="translate(806.13,829.80) scale(0.9729,1)" font-size="33.10">%</text>
<text transform="translate(838.14,829.80) scale(0.9870,1)" font-size="33.10">]</text>
<text transform="translate(542.71,42.00) scale(0.9733,1)" font-size="40.00">D</text>
<text transform="translate(571.53,42.00) scale(1.0161,1)" font-size="40.00">e</text>
<text transform="translate(594.50,42.00) scale(1.2353,1)" font-size="40.00">f</text>
<text transform="translate(608.54,42.00) scale(0.9617,1)" font-size="40.00">l</text>
<text transform="translate(618.39,42.00) scale(1.0161,1)" font-size="40.00">e</text>
<text transform="translate(641.66,42.00) scale(0.9439,1)" font-size="40.00">c</text>
<text transform="translate(662.13,42.00) scale(1.2573,1)" font-size="40.00">t</text>
<text transform="translate(677.60,42.00) scale(0.9617,1)" font-size="40.00">i</text>
<text transform="translate(687.48,42.00) scale(1.0001,1)" font-size="40.00">o</text>
<text transform="translate(710.83,42.00) scale(1.0143,1)" font-size="40.00">n</text>
<text transform="translate(34.00,526.98) rotate(-90) translate(0.42,0) scale(0.9802,1)" font-size="33.10">D</text>
<text transform="translate(34.00,526.98) rotate(-90) translate(24.44,0) scale(1.0233,1)" font-size="33.10">e</text>
<text transform="translate(34.00,526.98) rotate(-90) translate(43.58,0) scale(1.2440,1)" font-size="33.10">f</text>
<text transform="translate(34.00,526.98) rotate(-90) translate(55.28,0) scale(0.9685,1)" font-size="33.10">l</text>
<text transform="translate(34.00,526.98) rotate(-90) translate(63.49,0) scale(1.0233,1)" font-size="33.10">e</text>
<text transform="translate(34.00,526.98) rotate(-90) translate(82.88,0) scale(0.9507,1)" font-size="33.10">c</text>
<text transform="translate(34.00,526.98) rotate(-90) translate(99.94,0) scale(1.2663,1)" font-size="33.10">t</text>
<text transform="translate(34.00,526.98) rotate(-90) translate(112.84,0) scale(0.9685,1)" font-size="33.10">i</text>
<text transform="translate(34.00,526.98) rotate(-90) translate(121.07,0) scale(1.0072,1)" font-size="33.10">o</text>
<text transform="translate(34.00,526.98) rotate(-90) translate(140.53,0) scale(1.0215,1)" font-size="33.10">n</text>
<text transform="translate(34.00,357.59) rotate(-90) scale(1.1605,1)" font-size="33.10">[<tspan font-style="italic">mm</tspan>]</text>
</g>
</svg>
</body></html>
